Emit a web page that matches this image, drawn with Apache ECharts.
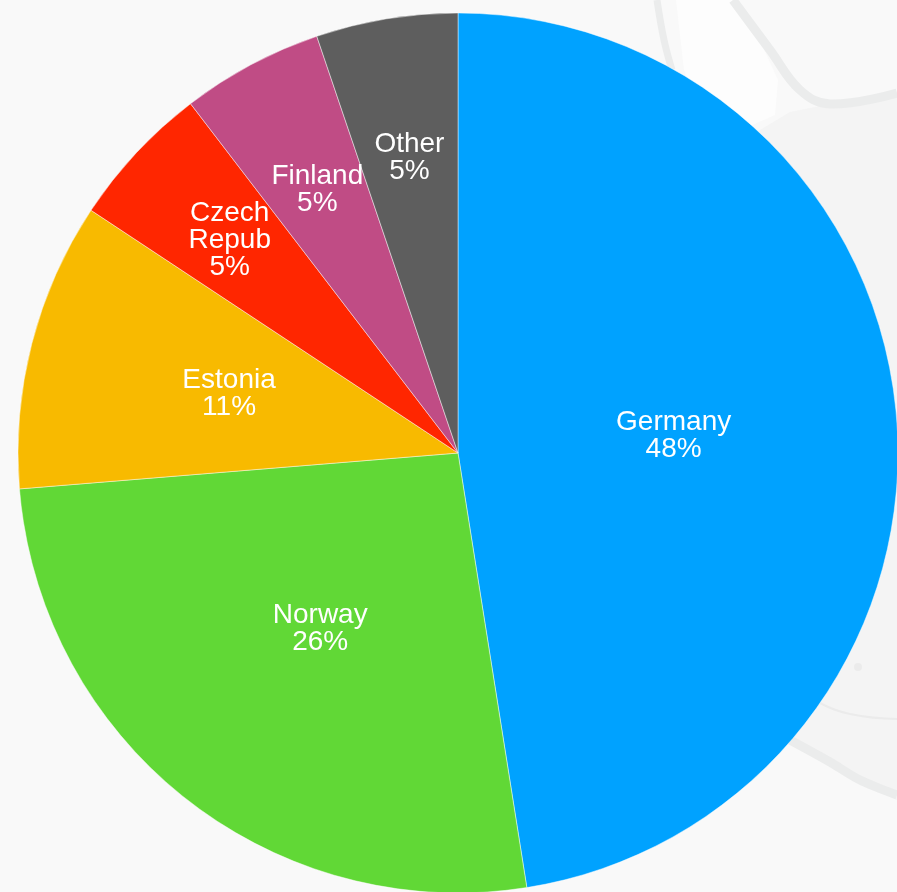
<!DOCTYPE html>
<html>
<head>
<meta charset="utf-8">
<script src="https://cdn.jsdelivr.net/npm/echarts@6/dist/echarts.min.js"></script>
<style>
  html, body { margin: 0; padding: 0; background: #f9f9f9; }
  #chart { width: 897px; height: 892px; }
</style>
</head>
<body>
<div id="chart"></div>
<script>
// country shares, clockwise from 12 o'clock
const countries = ['Germany', 'Norway', 'Estonia', 'Czech\nRepub', 'Finland', 'Other'];
const shares = [47.5, 26.2, 10.6, 5.3, 5.2, 5.2];
const sliceColors = ['#00a2ff', '#61d836', '#f8ba00', '#ff2600', '#c04c85', '#5e5e5e'];
// how far out each label sits, as a fraction of the radius
const labelRadius = [0.485, 0.5, 0.53, 0.70, 0.67, 0.67];

const CENTER = [458, 453];
const RADIUS = 440;

const chart = echarts.init(document.getElementById('chart'));

chart.setOption({
  backgroundColor: '#f9f9f9',
  animation: false,
  graphic: [
    // faint map shapes behind the pie
    {
      type: 'polygon', z: 0, silent: true,
      shape: { points: [[897, 94], [830, 104], [790, 112], [760, 130], [700, 200], [700, 745], [792, 742], [835, 770], [897, 800]] },
      style: { fill: '#f4f4f4' }
    },
    {
      type: 'polygon', z: 0, silent: true,
      shape: { points: [[676, 0], [733, 0], [762, 45], [778, 80], [775, 115], [750, 126], [700, 110], [684, 70]] },
      style: { fill: '#fdfdfd' }
    },
    {
      type: 'polyline', z: 0, silent: true,
      shape: { points: [[657, 0], [664, 40], [672, 70]], smooth: 0.4 },
      style: { stroke: '#ebecec', lineWidth: 7, fill: null }
    },
    {
      type: 'polyline', z: 0, silent: true,
      shape: { points: [[733, 0], [770, 50], [800, 90], [830, 104], [897, 93]], smooth: 0.4 },
      style: { stroke: '#ebecec', lineWidth: 9, fill: null }
    },
    {
      type: 'polyline', z: 0, silent: true,
      shape: { points: [[790, 740], [830, 762], [860, 780], [897, 795]], smooth: 0.3 },
      style: { stroke: '#ebecec', lineWidth: 9, fill: null }
    },
    {
      type: 'polyline', z: 0, silent: true,
      shape: { points: [[820, 703], [850, 714], [897, 719]], smooth: 0.5 },
      style: { stroke: '#ebebeb', lineWidth: 2, fill: null }
    },
    {
      type: 'circle', z: 0, silent: true,
      shape: { cx: 858, cy: 667, r: 4 },
      style: { fill: '#ebebeb' }
    }
  ],
  series: [
    {
      type: 'pie',
      z: 2,
      center: CENTER,
      radius: RADIUS,
      startAngle: 90,
      clockwise: true,
      avoidLabelOverlap: false,
      itemStyle: {
        borderColor: 'rgba(255,255,255,0.45)',
        borderWidth: 1
      },
      label: {
        show: true,
        position: 'inside',
        color: '#ffffff',
        fontFamily: 'Liberation Sans',
        fontSize: 28,
        lineHeight: 27,
        align: 'center',
        formatter: (p) => p.name + '\n' + Math.round(p.value) + '%'
      },
      labelLine: { show: false },
      emphasis: { disabled: true },
      labelLayout: (params) => {
        const r = params.labelRect;
        const cx = r.x + r.width / 2;
        const cy = r.y + r.height / 2;
        const k = labelRadius[params.dataIndex] / 0.5 - 1;
        return { dx: (cx - CENTER[0]) * k, dy: (cy - CENTER[1]) * k };
      },
      data: countries.map((name, i) => ({
        name: name,
        value: shares[i],
        itemStyle: { color: sliceColors[i] }
      }))
    }
  ]
});
</script>
</body>
</html>
